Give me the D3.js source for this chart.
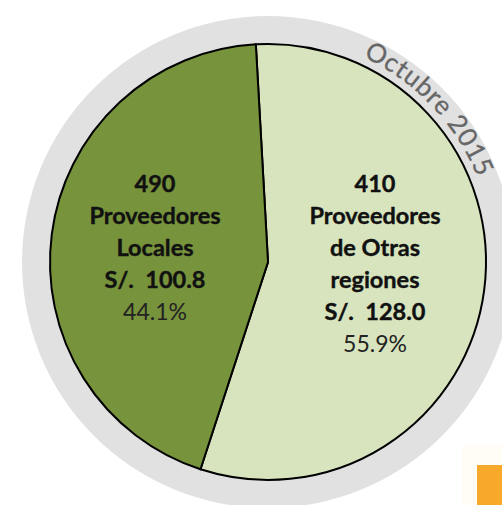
<!DOCTYPE html>
<html><head><meta charset="utf-8">
<script src="https://cdn.jsdelivr.net/npm/d3@7"></script>
<style>html,body{margin:0;padding:0;background:#fff;}svg{display:block;}</style>
</head><body>
<svg id="c" width="502" height="505"></svg>
<script>
const categories = ["Proveedores de Otras regiones", "Proveedores Locales"];
const labelLines = [["Proveedores", "de Otras", "regiones"], ["Proveedores", "Locales"]];
const counts = [410, 490];
const amounts = ["128.0", "100.8"];
const percents = [55.9, 44.1];
const colors = ["#D7E4BD", "#77933C"];
const periodWords = ["Octubre", "2015"];

const svg = d3.select("#c");
const cx = 268, cy = 262, R = 218, Rring = 246;
const g = svg.append("g").attr("transform", `translate(${cx},${cy})`);

// orange square bottom-right
svg.append("rect").attr("x", 462).attr("y", 445).attr("width", 45).attr("height", 65).attr("fill", "#FFFDF5");
svg.append("rect").attr("x", 477).attr("y", 465).attr("width", 30).attr("height", 45).attr("fill", "#F7A92A");

// grey ring
g.append("circle").attr("r", Rring).attr("fill", "#E1E1E1");

const start = -3.2 * Math.PI / 180;
const pie = d3.pie().sort(null).value(d => d).startAngle(start).endAngle(start + 2 * Math.PI);
const arcs = pie(percents);
const arc = d3.arc().innerRadius(0).outerRadius(R);

g.selectAll("path.slice").data(arcs).join("path")
  .attr("class", "slice")
  .attr("d", arc)
  .attr("fill", (d, i) => colors[i])
  .attr("stroke", "#000").attr("stroke-width", 2).attr("stroke-linejoin", "miter");

// labels
const font = "Lato, 'Open Sans', sans-serif";
const labelPos = [[375, 192], [155, 192]];
arcs.forEach((a, i) => {
  const lines = [String(counts[i])].concat(labelLines[i]).concat(["S/.\u00A0\u00A0" + amounts[i]]);
  const t = svg.append("text").attr("text-anchor", "middle").attr("font-family", font).attr("fill", "#111");
  lines.forEach((ln, k) => {
    t.append("tspan").attr("x", labelPos[i][0]).attr("y", labelPos[i][1] + k * 32)
      .attr("font-size", 23.5).attr("font-weight", "bold").attr("stroke", "#111").attr("stroke-width", 0.4).text(ln);
  });
  t.append("tspan").attr("x", labelPos[i][0]).attr("y", labelPos[i][1] + lines.length * 32)
    .attr("font-size", 23).attr("font-weight", "normal").attr("fill", "#222")
    .text(percents[i].toFixed(1) + "%");
});

// curved period text on ring
const rText = 226;
const a0 = 0, a1 = 93 * Math.PI / 180;
const p = d3.path();
p.arc(0, 0, rText, a0 - Math.PI / 2, a1 - Math.PI / 2, false);
g.append("path").attr("id", "ringPath").attr("d", p.toString()).attr("fill", "none");
const pathLen = rText * (a1 - a0);
const ringStyle = s => s.attr("font-family", font).attr("font-size", 26).attr("fill", "#666")
  .attr("letter-spacing", 0.8).attr("stroke", "#666").attr("stroke-width", 0.3);
const measure = str => {
  const t = svg.append("text").call(ringStyle).text(str);
  const w = t.node().getComputedTextLength();
  t.remove();
  return w;
};
const full = periodWords.join(" ");
const totalW = measure(full);
const firstW = measure(periodWords[0] + "\u00A0");
const startOff = pathLen / 2 - totalW / 2;
[startOff, startOff + firstW].forEach((off, k) => {
  g.append("text").call(ringStyle)
    .append("textPath").attr("href", "#ringPath").attr("startOffset", off)
    .text(periodWords[k]);
});
</script>
</body></html>
